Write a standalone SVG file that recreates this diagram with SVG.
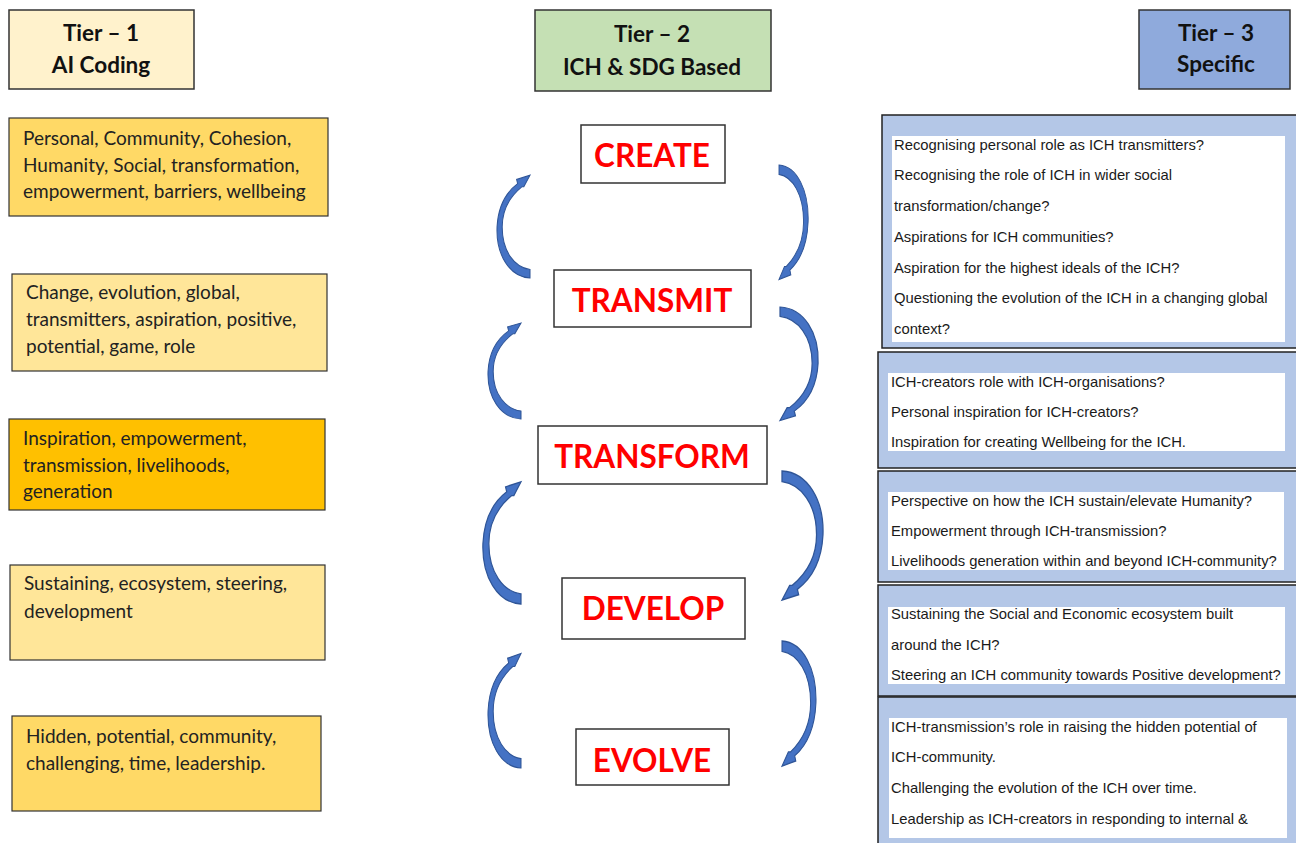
<svg xmlns="http://www.w3.org/2000/svg" xmlns:xlink="http://www.w3.org/1999/xlink" width="1296" height="843" viewBox="0 0 1296 843">
<style>
.hdr{stroke:#333;stroke-width:1.5}
.ht{font-family:Lato,"Liberation Sans",sans-serif;font-weight:bold;font-size:22.5px;fill:#111;text-anchor:middle}
.t1{stroke:#333;stroke-width:1.2}
.t1t{font-family:Lato,"Liberation Sans",sans-serif;font-size:19px;fill:#222}
.t2{fill:#fff;stroke:#333;stroke-width:1.5}
.t2t{font-family:Lato,"Liberation Sans",sans-serif;font-weight:bold;font-size:31.5px;fill:#ff0000;text-anchor:middle}
.t3o{fill:#b4c7e7;stroke:#222;stroke-width:1.5}
.t3i{fill:#fff}
.t3t{font-family:"Liberation Sans",Arial,sans-serif;font-size:14.8px;fill:#1a1a1a}
.arr{fill:#4472c4;stroke:#2f5597;stroke-width:1}
</style>
<defs>
<path id="carrow" d="M0 100 C-20 99 -33 78 -32 52 C-31 32 -23 19 -12 11 L-13 7 L0 3 L-6 14 L-8 14 C-18 22 -27 34 -27 52 C-27 75 -15 90 0 92 Z"/>
</defs>
<rect width="1296" height="843" fill="#fff"/>

<g id="header-tier1">
<rect class="hdr" x="9" y="10" width="185" height="79" fill="#fff2cc"/>
<text class="ht" x="101" y="41">Tier – 1</text>
<text class="ht" x="101" y="73">AI Coding</text>
</g>
<g id="header-tier2">
<rect class="hdr" x="535" y="10" width="236" height="81" fill="#c5e0b4"/>
<text class="ht" x="652" y="42">Tier – 2</text>
<text class="ht" x="652" y="75">ICH &amp; SDG Based</text>
</g>
<g id="header-tier3">
<rect class="hdr" x="1139" y="10" width="151" height="79" fill="#8faadc"/>
<text class="ht" x="1216" y="41">Tier – 3</text>
<text class="ht" x="1216" y="72">Specific</text>
</g>

<g id="t1-box1">
<rect class="t1" x="9" y="118" width="319" height="98" fill="#ffd966"/>
<text class="t1t" x="23" y="145">Personal, Community, Cohesion,</text>
<text class="t1t" x="23" y="171.5">Humanity, Social, transformation,</text>
<text class="t1t" x="23" y="198">empowerment, barriers, wellbeing</text>
</g>
<g id="t1-box2">
<rect class="t1" x="12" y="274" width="315" height="97" fill="#ffe699"/>
<text class="t1t" x="26" y="299">Change, evolution, global,</text>
<text class="t1t" x="26" y="326">transmitters, aspiration, positive,</text>
<text class="t1t" x="26" y="353">potential, game, role</text>
</g>
<g id="t1-box3">
<rect class="t1" x="9" y="419" width="316" height="91" fill="#ffc000"/>
<text class="t1t" x="23" y="445">Inspiration, empowerment,</text>
<text class="t1t" x="23" y="472">transmission, livelihoods,</text>
<text class="t1t" x="23" y="498">generation</text>
</g>
<g id="t1-box4">
<rect class="t1" x="10" y="565" width="315" height="95" fill="#ffe699"/>
<text class="t1t" x="24" y="590">Sustaining, ecosystem, steering,</text>
<text class="t1t" x="24" y="618">development</text>
</g>
<g id="t1-box5">
<rect class="t1" x="12" y="716" width="309" height="95" fill="#ffd966"/>
<text class="t1t" x="26" y="743">Hidden, potential, community,</text>
<text class="t1t" x="26" y="770">challenging, time, leadership.</text>
</g>

<g id="t2-create">
<rect class="t2" x="581" y="125" width="144" height="58"/>
<text class="t2t" x="652" y="167">CREATE</text>
</g>
<g id="t2-transmit">
<rect class="t2" x="554" y="270" width="197" height="57"/>
<text class="t2t" x="652" y="312">TRANSMIT</text>
</g>
<g id="t2-transform">
<rect class="t2" x="538" y="426" width="229" height="58"/>
<text class="t2t" x="652" y="468">TRANSFORM</text>
</g>
<g id="t2-develop">
<rect class="t2" x="562" y="578" width="183" height="61"/>
<text class="t2t" x="653" y="620">DEVELOP</text>
</g>
<g id="t2-evolve">
<rect class="t2" x="576" y="729" width="153" height="56"/>
<text class="t2t" x="652" y="772">EVOLVE</text>
</g>

<g id="connectors">
<use xlink:href="#carrow" class="arr" transform="translate(530,172) scale(1.03,1.06)"/>
<use xlink:href="#carrow" class="arr" transform="translate(521,320) scale(1.03,0.99)"/>
<use xlink:href="#carrow" class="arr" transform="translate(521,478) scale(1.19,1.26)"/>
<use xlink:href="#carrow" class="arr" transform="translate(521,650) scale(1.03,1.18)"/>
<use xlink:href="#carrow" class="arr" transform="translate(779,283) rotate(180) scale(0.91,1.18)"/>
<use xlink:href="#carrow" class="arr" transform="translate(780,424) rotate(180) scale(1.19,1.17)"/>
<use xlink:href="#carrow" class="arr" transform="translate(782,604) rotate(180) scale(1.28,1.33)"/>
<use xlink:href="#carrow" class="arr" transform="translate(782,770) rotate(180) scale(1.06,1.29)"/>
</g>

<g id="t3-box1">
<rect class="t3o" x="882" y="115" width="420" height="233"/>
<rect class="t3i" x="892" y="136" width="393" height="206"/>
<text class="t3t" x="894" y="150">Recognising personal role as ICH transmitters?</text>
<text class="t3t" x="894" y="180">Recognising the role of ICH in wider social</text>
<text class="t3t" x="894" y="211">transformation/change?</text>
<text class="t3t" x="894" y="242">Aspirations for ICH communities?</text>
<text class="t3t" x="894" y="273">Aspiration for the highest ideals of the ICH?</text>
<text class="t3t" x="894" y="303">Questioning the evolution of the ICH in a changing global</text>
<text class="t3t" x="894" y="334">context?</text>
</g>
<g id="t3-box2">
<rect class="t3o" x="878" y="352" width="424" height="116"/>
<rect class="t3i" x="888" y="373" width="397" height="78"/>
<text class="t3t" x="891" y="387">ICH-creators role with ICH-organisations?</text>
<text class="t3t" x="891" y="417">Personal inspiration for ICH-creators?</text>
<text class="t3t" x="891" y="447">Inspiration for creating Wellbeing for the ICH.</text>
</g>
<g id="t3-box3">
<rect class="t3o" x="878" y="471" width="424" height="111"/>
<rect class="t3i" x="888" y="492" width="396" height="78"/>
<text class="t3t" x="891" y="506">Perspective on how the ICH sustain/elevate Humanity?</text>
<text class="t3t" x="891" y="536">Empowerment through ICH-transmission?</text>
<text class="t3t" x="891" y="566">Livelihoods generation within and beyond ICH-community?</text>
</g>
<g id="t3-box4">
<rect class="t3o" x="878" y="585" width="424" height="111"/>
<rect class="t3i" x="888" y="607" width="397" height="77"/>
<text class="t3t" x="891" y="619">Sustaining the Social and Economic ecosystem built</text>
<text class="t3t" x="891" y="650">around the ICH?</text>
<text class="t3t" x="891" y="680">Steering an ICH community towards Positive development?</text>
</g>
<g id="t3-box5">
<rect class="t3o" x="878" y="697" width="424" height="160"/>
<rect class="t3i" x="889" y="718" width="398" height="120"/>
<text class="t3t" x="891" y="732">ICH-transmission’s role in raising the hidden potential of</text>
<text class="t3t" x="891" y="762">ICH-community.</text>
<text class="t3t" x="891" y="793">Challenging the evolution of the ICH over time.</text>
<text class="t3t" x="891" y="824">Leadership as ICH-creators in responding to internal &amp;</text>
</g>
</svg>
